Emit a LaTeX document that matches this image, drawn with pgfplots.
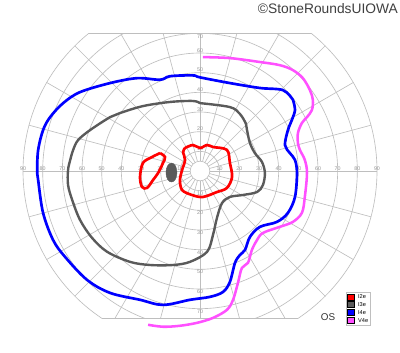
\documentclass[border=0pt]{standalone}
\usepackage{fontspec}
\setmainfont{Liberation Sans}
\usepackage{pgfplots}
\pgfplotsset{compat=1.18}
\definecolor{gridc}{RGB}{190,190,190}
\definecolor{labc}{RGB}{150,150,150}
\definecolor{isoI2}{RGB}{255,0,0}
\definecolor{isoI3}{RGB}{90,90,90}
\definecolor{isoI4}{RGB}{0,0,255}
\definecolor{isoV4}{RGB}{255,80,255}
\begin{document}
\begin{tikzpicture}
\path[use as bounding box] (0,0) rectangle (10cm,8.8cm);
\fill[white] (0,0) rectangle (10cm,8.8cm);
% perimetry grid (decoration)
\begin{scope}[shift={(5cm,4.525cm)}, x=0.049164cm, y=0.049164cm]
  \begin{scope}
    \clip (-91,-75) rectangle (91,70);
    \foreach \r in {5,10,20,...,90} \draw[gridc, line width=0.45pt] (0,0) circle[radius=\r];
    \foreach \a in {0,15,...,345} \draw[gridc, line width=0.45pt] (\a:5) -- (\a:90);
  \end{scope}
  \draw[gridc, line width=0.45pt] (-56.57,70) -- (56.57,70);
  \draw[gridc, line width=0.45pt] (-49.75,-75) -- (49.75,-75);
  \foreach \r in {10,20,...,90} {
    \node[text=labc, font=\fontsize{3.8}{4}\selectfont, anchor=south, inner sep=0.4pt] at (\r,0) {\r};
    \node[text=labc, font=\fontsize{3.8}{4}\selectfont, anchor=south, inner sep=0.4pt] at (-\r,0) {\r};
  }
  \foreach \r in {10,20,...,60}
    \node[text=labc, font=\fontsize{3.8}{4}\selectfont, anchor=south, inner sep=0.4pt] at (0,\r) {\r};
  \node[text=labc, font=\fontsize{3.8}{4}\selectfont, anchor=north, inner sep=0.6pt] at (0,70) {70};
  \foreach \r in {10,20,...,70}
    \node[text=labc, font=\fontsize{3.8}{4}\selectfont, anchor=north, inner sep=0.4pt] at (0,-\r) {\r};
\end{scope}
\begin{axis}[at={(0,0)}, anchor=south west, scale only axis,
  width=10cm, height=8.8cm,
  xmin=-101.7, xmax=101.7, ymin=-92.04, ymax=86.95,
  hide axis, clip=false,
  legend cell align=left,
  legend style={at={(0.865,0.1705)}, anchor=north west,
    draw=gray!50, line width=0.5pt,
    font=\fontsize{4}{5}\selectfont,
    inner xsep=0.8pt, inner ysep=0.9pt, row sep=0.9pt,
    /tikz/every odd column/.style={column sep=2.2pt},
    nodes={inner sep=0.5pt, text height=2.8pt, text depth=0.7pt}},
  legend image code/.code={\fill[#1] (0pt,-2.1pt) rectangle (4.4pt,2.1pt);}
]
\addlegendimage{fill=isoI2}
\addlegendentry{I2e}
\addlegendimage{fill=isoI3}
\addlegendentry{I3e}
\addlegendimage{fill=isoI4}
\addlegendentry{I4e}
\addlegendimage{fill=isoV4}
\addlegendentry{V4e}

% V4e (open)
\addplot[isoV4, line width=1.8pt, smooth, tension=0.55, forget plot] coordinates {
(1.5,57.9)(15.2,57.4)(30.5,55.4)(40.6,53.8)(47.2,51.3)(52.3,47.2)(55.9,41.1)(57.4,36.1)
(56.9,31.0)(54.4,27.4)(51.8,24.4)(49.8,19.3)(49.8,14.2)(50.8,10.7)(53.3,5.6)(54.4,-1.0)
(53.3,-13.2)(51.8,-21.3)(47.2,-25.9)(40.6,-28.4)(32.0,-31.5)(29.0,-35.1)(26.4,-40.1)
(24.4,-46.7)(21.3,-49.3)(19.3,-56.9)(16.8,-65.5)(13.7,-70.6)(6.6,-74.7)(-1.5,-77.2)
(-10.2,-78.7)(-18.8,-79.2)(-26.4,-78.2)
};
% I4e
\addplot[isoI4, line width=1.9pt, smooth, tension=0.55, forget plot] coordinates {
(47.3,36.1)(42.2,41.1)(30.5,42.2)(15.2,44.7)(0,47.6)(-3.6,48.6)(-15.2,48.2)(-20.3,46.4)
(-32.0,47.2)(-45.7,44.7)(-61.0,40.1)(-69.6,34.5)(-76.2,27.4)(-79.8,20.8)(-82.3,10.7)
(-82.8,0.5)(-82.3,-4.6)(-79.8,-21.3)(-74.7,-35.1)(-68.6,-43.7)(-57.4,-55.4)(-45.7,-62.0)
(-30.5,-65.5)(-18.8,-68.1)(-5.1,-65.5)(5.1,-64.0)(11.7,-61.5)(15.2,-56.4)(17.8,-46.7)
(20.3,-42.7)(22.9,-40.1)(25.4,-33.5)(30.5,-28.4)(39.1,-25.9)(44.7,-21.3)(48.3,-13.2)
(49.3,-1.0)(48.3,5.6)(45.7,9.1)(43.2,13.2)(44.7,20.8)(46.7,25.9)(48.3,31.0)(47.3,36.1)
};
% I3e
\addplot[isoI3, line width=1.7pt, smooth, tension=0.55, forget plot] coordinates {
(0,34.5)(15.2,32.5)(20.3,29.0)(23.4,23.9)(23.9,20.8)(25.4,14.2)(27.9,9.1)(31.5,4.6)
(33.0,-1.0)(32.0,-7.1)(29.0,-10.7)(21.8,-12.2)(15.2,-13.2)(11.2,-16.3)(8.6,-23.9)
(6.6,-32.5)(3.6,-41.1)(-5.1,-46.2)(-13.7,-47.8)(-25.4,-47.8)(-35.6,-46.2)(-47.2,-41.1)
(-54.9,-34.0)(-61.0,-24.9)(-65.0,-14.7)(-67.1,-7.1)(-67.1,0.5)(-66.0,5.6)(-64.5,10.7)
(-62.0,15.7)(-55.9,20.8)(-45.7,27.4)(-40.6,29.5)(-29.0,33.0)(-15.2,35.1)(-3.6,35.6)(0,34.5)
};
% blind spot
\addplot[isoI3, fill=isoI3, line width=0.3pt, smooth, tension=0.7, forget plot] coordinates {
(-11.7,-0.8)(-12.5,2.6)(-14.5,4.0)(-16.5,2.6)(-17.3,-0.8)(-16.5,-4.2)(-14.5,-5.6)(-12.5,-4.2)(-11.7,-0.8)
};
% I2e left island
\addplot[isoI2, line width=1.9pt, smooth, tension=0.55, forget plot] coordinates {
(-20.3,9.1)(-17.8,7.1)(-18.8,4.1)(-21.3,-1.0)(-23.9,-4.6)(-26.9,-8.6)(-29.5,-8.1)
(-30.5,-3.0)(-29.0,4.1)(-24.4,7.1)(-20.3,9.1)
};
% I2e central
\addplot[isoI2, line width=1.9pt, smooth, tension=0.55, forget plot] coordinates {
(-7.6,11.7)(-3.6,13.2)(0,11.7)(3.6,13.2)(6.6,12.2)(13.7,10.7)(15.2,4.1)(16.3,-3.0)
(13.7,-8.6)(8.6,-10.7)(1.5,-13.2)(-4.1,-12.2)(-9.1,-9.7)(-10.2,-4.6)(-9.1,0.5)
(-7.6,5.6)(-8.6,9.7)(-7.6,11.7)
};

\node[anchor=base east, font=\fontsize{9.8}{10}\selectfont, text=black!75, inner sep=0pt] at (axis cs:100.7,80.3) {©StoneRoundsUIOWA};
\node[font=\fontsize{7}{8}\selectfont, text=black!80, inner sep=0pt] at (axis cs:65.1,-74.2) {OS};
\end{axis}
\end{tikzpicture}
\end{document}
